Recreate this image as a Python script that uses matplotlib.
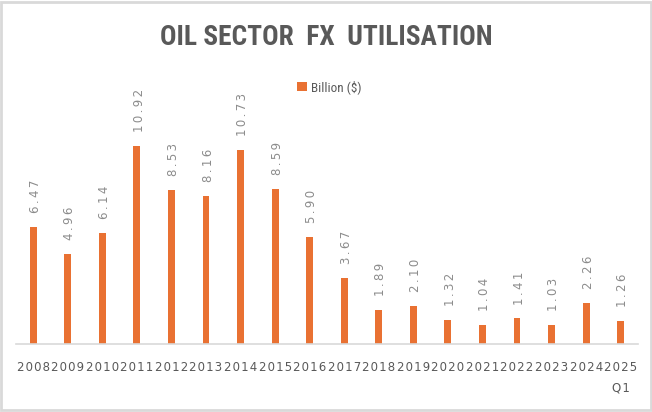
"""Oil sector FX utilisation bar chart."""

import matplotlib

matplotlib.use("Agg")
import matplotlib.pyplot as plt
from matplotlib.patches import Rectangle
from matplotlib import font_manager

years = ["2008", "2009", "2010", "2011", "2012", "2013", "2014", "2015", "2016",
         "2017", "2018", "2019", "2020", "2021", "2022", "2023", "2024", "2025\nQ1"]
billions = [6.47, 4.96, 6.14, 10.92, 8.53, 8.16, 10.73, 8.59, 5.90,
            3.67, 1.89, 2.10, 1.32, 1.04, 1.41, 1.03, 2.26, 1.26]

BAR_COLOR = "#E97132"
HAIR = "\u200a"
THIN = "\u2009"

# pick a narrow face for the title / legend if one is around
names = {f.name for f in font_manager.fontManager.ttflist}
narrow = "DejaVu Sans"
for cand in ["Roboto Condensed", "Arimo Narrow", "Liberation Sans Narrow", "Archivo Narrow",
             "Barlow Semi Condensed", "Open Sans Condensed", "PT Sans Narrow", "Encode Sans Condensed",
             "Fira Sans Condensed", "IBM Plex Sans Condensed", "Barlow Condensed", "Oswald"]:
    if cand in names:
        narrow = cand
        break


def spaced(text, gap=HAIR):
    return "\n".join(gap.join(line) for line in text.split("\n"))


fig = plt.figure(figsize=(6.52, 4.12), dpi=100)
ax = fig.add_axes([0.0245, 0.165, 0.954, 0.58])

x = list(range(len(years)))
bars = ax.bar(x, billions, width=0.2, color=BAR_COLOR, label="Billion ($)")

for xi, val in zip(x, billions):
    ax.annotate(spaced(f"{val:.2f}", THIN), (xi, val), xytext=(1.5, 10), textcoords="offset points",
                rotation=90, ha="center", va="bottom", fontsize=8.5, color="#8C8C8C")

ax.set_xlim(-0.5, len(years) - 0.5)
ax.set_ylim(0, 13.2)
ax.set_xticks(x)
ax.set_xticklabels([spaced(y) for y in years], fontsize=8.5, color="#595959",
                   linespacing=1.8, multialignment="center")
ax.tick_params(axis="x", length=0, pad=12)
ax.set_yticks([])
for side in ("top", "left", "right"):
    ax.spines[side].set_visible(False)
ax.spines["bottom"].set_color("#D9D9D9")
ax.spines["bottom"].set_linewidth(1.2)

fig.legend(handles=[bars], labels=["Billion ($)"], loc="center", bbox_to_anchor=(0.505, 0.789),
           frameon=False, prop={"family": narrow, "size": 9.5}, labelcolor="#595959",
           handlelength=0.7, handleheight=0.7, handletextpad=0.3)

title = fig.text(0.5, 0.91, "OIL SECTOR  FX  UTILISATION", ha="center", va="center",
                 fontsize=21, fontweight="bold", color="#595959", family=narrow)
# squeeze the title to the reference width (~333 px)
renderer = fig.canvas.get_renderer()
w = title.get_window_extent(renderer).width
title.set_fontsize(min(24, 21 * 333 / w))

fig.patches.append(Rectangle((0.002, 0.005), 0.996, 0.99, transform=fig.transFigure,
                             fill=False, edgecolor="#D9D9D9", linewidth=2))

fig.savefig("out.png", dpi=100)
